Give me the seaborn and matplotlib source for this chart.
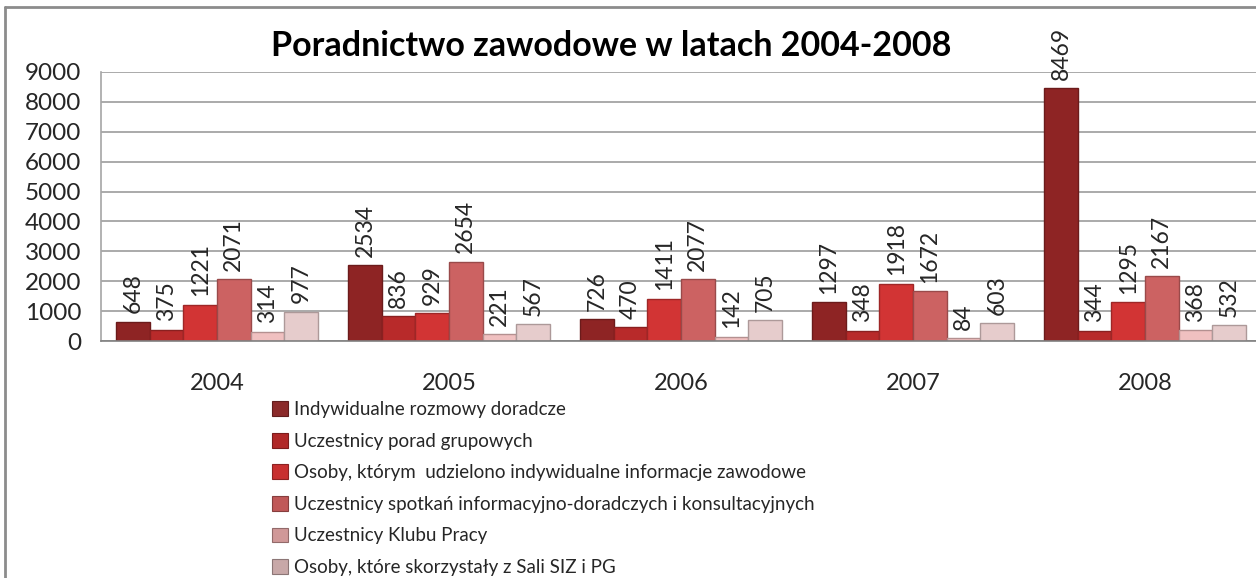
import matplotlib
matplotlib.use("Agg")
import matplotlib.pyplot as plt
import matplotlib.colors as mcolors
from matplotlib.patches import Patch
from matplotlib.lines import Line2D
import seaborn as sns
import pandas as pd
import numpy as np

years = ["2004", "2005", "2006", "2007", "2008"]
series = [
    "Indywidualne rozmowy doradcze",
    "Uczestnicy porad grupowych",
    "Osoby, którym  udzielono indywidualne informacje zawodowe",
    "Uczestnicy spotkań informacyjno-doradczych i konsultacyjnych",
    "Uczestnicy Klubu Pracy",
    "Osoby, które skorzystały z Sali SIZ i PG",
]
rozmowy = [648, 2534, 726, 1297, 8469]
porady_grupowe = [375, 836, 470, 348, 344]
informacje = [1221, 929, 1411, 1918, 1295]
spotkania = [2071, 2654, 2077, 1672, 2167]
klub_pracy = [314, 221, 142, 84, 368]
sala_siz = [977, 567, 705, 603, 532]
colors = ["#8e2424", "#b82a2a", "#d23434", "#cc6262", "#f0c0c0", "#e6cccc"]
legend_colors = ["#8b2a2a", "#b02828", "#c83030", "#c05858", "#d09898", "#c8a8a8"]

values = [rozmowy, porady_grupowe, informacje, spotkania, klub_pracy, sala_siz]
df = pd.DataFrame({
    "rok": np.tile(years, len(series)),
    "kategoria": np.repeat(series, len(years)),
    "liczba": np.concatenate(values),
})

sns.set_style("white")
plt.rcParams["font.family"] = ["Lato", "DejaVu Sans"]
txt = "#262626"

W, H = 1256, 578
fig = plt.figure(figsize=(W / 100, H / 100), dpi=100)
ax = fig.add_axes([101 / W, (H - 341) / H, (W - 101) / W, 269 / H])

sns.barplot(data=df, x="rok", y="liczba", hue="kategoria", hue_order=series,
            palette=colors, width=0.87, ax=ax, legend=False, saturation=1)

for cont, c in zip(ax.containers, colors):
    edge = np.array(mcolors.to_rgb(c)) * 0.75
    for p in cont:
        p.set_edgecolor(edge)
        p.set_linewidth(1.0)
    ax.bar_label(cont, labels=[f"{int(v)}" for v in cont.datavalues],
                 rotation=90, padding=6, fontsize=16.5, color=txt)

ax.set_ylim(0, 9000)
ax.set_xlim(-0.5, -0.5 + (W - 101) / 232)
ax.set_yticks(range(0, 9001, 1000))
ax.yaxis.grid(True, color="#9c9c9c", linewidth=1.2)
ax.set_axisbelow(True)
ax.set_xlabel("")
ax.set_ylabel("")
for s in ["top", "right"]:
    ax.spines[s].set_visible(False)
ax.spines["left"].set_color("#a6a6a6")
ax.spines["bottom"].set_color("#808080")
ax.spines["left"].set_linewidth(1.2)
ax.spines["bottom"].set_linewidth(1.2)
ax.tick_params(axis="y", length=8, color="#a6a6a6", labelsize=17.5, labelcolor=txt, pad=6)
ax.tick_params(axis="x", which="major", length=0, labelsize=17, labelcolor=txt, pad=23)
ax.set_xticks([-0.5, 0.5, 1.5, 2.5, 3.5], minor=True)
ax.tick_params(axis="x", which="minor", length=9, color="#a6a6a6", width=1.2)

fig.text(0.487, 1 - 46 / H, "Poradnictwo zawodowe w latach 2004-2008",
         ha="center", va="center", fontsize=24.5, fontweight="bold", color="black")

handles = [Patch(facecolor=c, edgecolor=np.array(mcolors.to_rgb(c)) * 0.7, linewidth=0.8)
           for c in legend_colors]
fig.legend(handles, series, loc="upper left", bbox_to_anchor=(272 / W, 1 - 401 / H),
           frameon=False, fontsize=13.5, handlelength=0.85, handleheight=0.85,
           handletextpad=0.3, labelspacing=0.78, borderaxespad=0, borderpad=0,
           labelcolor=txt)

fig.add_artist(Line2D([5 / W, 5 / W], [0, 1 - 7 / H], color="#8c8c8c", linewidth=2,
                      transform=fig.transFigure))
fig.add_artist(Line2D([5 / W, 1], [1 - 7 / H, 1 - 7 / H], color="#8c8c8c", linewidth=2,
                      transform=fig.transFigure))

fig.savefig("out.png", dpi=100, facecolor="white")
